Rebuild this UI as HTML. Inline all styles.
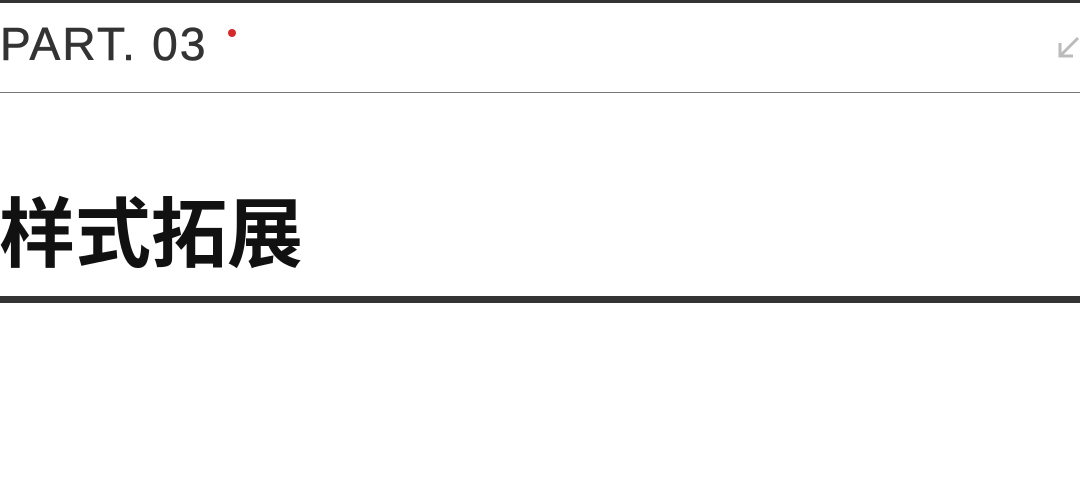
<!DOCTYPE html>
<html><head><meta charset="utf-8"><style>
html,body{margin:0;padding:0;background:#fff;width:1080px;height:501px;overflow:hidden;position:relative}
.top{position:absolute;left:0;top:0;width:1080px;height:3px;background:#333}
.part{position:absolute;left:0;top:21px;font:46px/1 "Liberation Sans",sans-serif;color:#333;letter-spacing:2.2px;white-space:nowrap;-webkit-text-stroke:0.6px #333}
.dot{position:absolute;left:228px;top:29px;width:8px;height:8px;border-radius:50%;background:#d42a2a}
.line{position:absolute;left:0;top:92px;width:1080px;height:1px;background:#777}
.title{position:absolute;left:-1px;top:198px;font:bold 76px/1 "Liberation Sans","Noto Sans CJK SC",sans-serif;color:#111;white-space:nowrap}
.bar{position:absolute;left:0;top:296px;width:1080px;height:7px;background:#333}
</style></head><body>
<div class="top"></div>
<div class="part">PART. 03</div>
<div class="dot"></div>
<svg style="position:absolute;left:1056px;top:36px" width="24" height="24"><path d="M22 2 L4 20 M4 7 L4 20 L17 20" stroke="#bbb" stroke-width="3" fill="none"/></svg>
<div class="line"></div>
<div class="title">样式拓展</div>
<div class="bar"></div>
</body></html>
